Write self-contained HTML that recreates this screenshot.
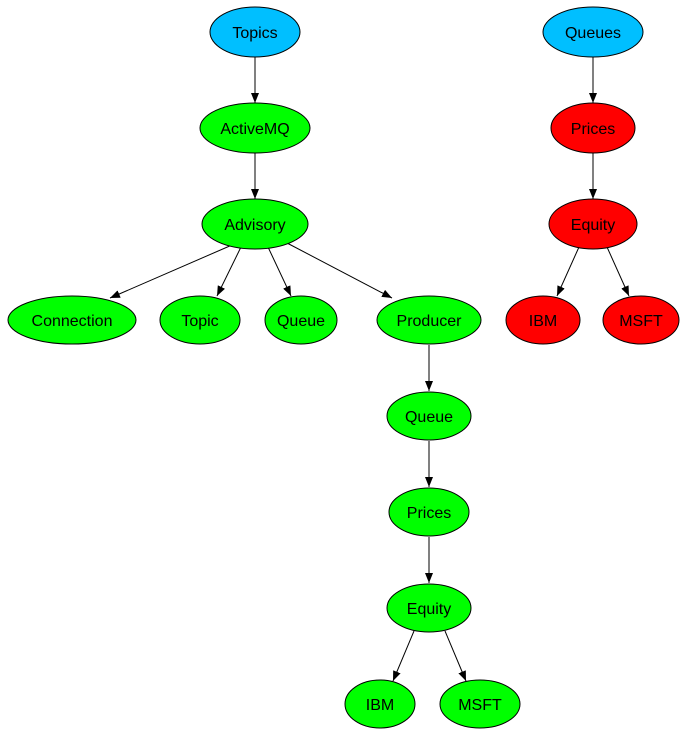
<!DOCTYPE html>
<html><head><style>body{margin:0;background:#fff}svg{display:block}</style></head><body>
<svg width="690" height="746" viewBox="0 0 690 746" xmlns="http://www.w3.org/2000/svg" font-family="Liberation Sans, sans-serif" font-size="16">
<defs><marker id="a" markerWidth="10" markerHeight="8" refX="10" refY="4" orient="auto" markerUnits="userSpaceOnUse"><path d="M0,0 L10,4 L0,8 z" fill="#000"/></marker></defs>
<g stroke="#000" stroke-width="1" marker-end="url(#a)">
<line x1="255" y1="57" x2="255" y2="103"/>
<line x1="255" y1="153" x2="255" y2="199"/>
<line x1="232" y1="245" x2="110" y2="298"/>
<line x1="241" y1="247" x2="217" y2="296"/>
<line x1="268" y1="247" x2="291" y2="296"/>
<line x1="287" y1="243" x2="392" y2="298"/>
<line x1="429" y1="345" x2="429" y2="391"/>
<line x1="429" y1="441" x2="429" y2="487"/>
<line x1="429" y1="537" x2="429" y2="583"/>
<line x1="414" y1="631" x2="393" y2="681"/>
<line x1="445" y1="631" x2="466" y2="681"/>
<line x1="593" y1="57" x2="593" y2="103"/>
<line x1="593" y1="153" x2="593" y2="199"/>
<line x1="579" y1="247" x2="557" y2="296"/>
<line x1="607" y1="247" x2="629" y2="296"/>
</g>
<g stroke="#000" stroke-width="1">
<ellipse cx="255" cy="32" rx="45" ry="25" fill="#00bfff"/>
<ellipse cx="255" cy="128" rx="55" ry="25" fill="#00ff00"/>
<ellipse cx="255" cy="224" rx="53" ry="25" fill="#00ff00"/>
<ellipse cx="72" cy="320" rx="64" ry="24" fill="#00ff00"/>
<ellipse cx="200" cy="320" rx="40" ry="24" fill="#00ff00"/>
<ellipse cx="301" cy="320" rx="36" ry="24" fill="#00ff00"/>
<ellipse cx="429" cy="320" rx="52" ry="24" fill="#00ff00"/>
<ellipse cx="429" cy="416" rx="42" ry="24" fill="#00ff00"/>
<ellipse cx="429" cy="512" rx="40" ry="24" fill="#00ff00"/>
<ellipse cx="429" cy="608" rx="42" ry="24" fill="#00ff00"/>
<ellipse cx="380" cy="704" rx="35" ry="24" fill="#00ff00"/>
<ellipse cx="480" cy="704" rx="40" ry="24" fill="#00ff00"/>
<ellipse cx="593" cy="32" rx="50" ry="25" fill="#00bfff"/>
<ellipse cx="593" cy="128" rx="42" ry="25" fill="#ff0000"/>
<ellipse cx="593" cy="224" rx="44" ry="25" fill="#ff0000"/>
<ellipse cx="543" cy="320" rx="37" ry="24" fill="#ff0000"/>
<ellipse cx="641" cy="320" rx="38" ry="24" fill="#ff0000"/>
</g>
<g text-anchor="middle" fill="#000">
<text x="255" y="38">Topics</text>
<text x="255" y="134">ActiveMQ</text>
<text x="255" y="230">Advisory</text>
<text x="72" y="326">Connection</text>
<text x="200" y="326">Topic</text>
<text x="301" y="326">Queue</text>
<text x="429" y="326">Producer</text>
<text x="429" y="422">Queue</text>
<text x="429" y="518">Prices</text>
<text x="429" y="614">Equity</text>
<text x="380" y="710">IBM</text>
<text x="480" y="710">MSFT</text>
<text x="593" y="38">Queues</text>
<text x="593" y="134">Prices</text>
<text x="593" y="230">Equity</text>
<text x="543" y="326">IBM</text>
<text x="641" y="326">MSFT</text>
</g>
</svg>
</body></html>
